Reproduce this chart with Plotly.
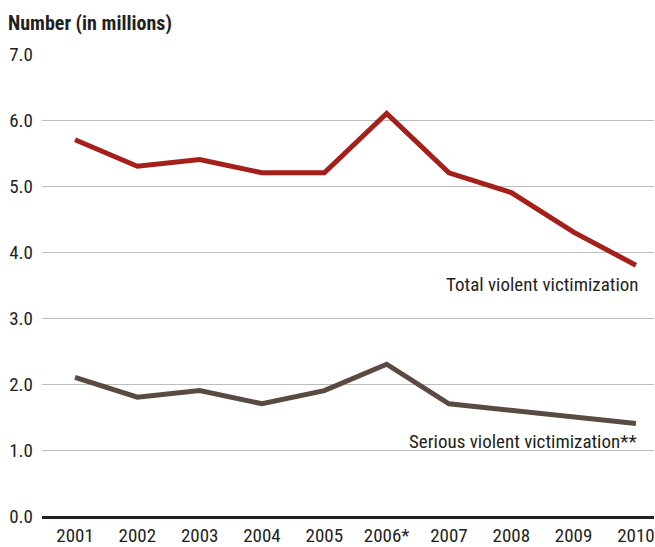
import plotly.graph_objects as go

years = ["2001", "2002", "2003", "2004", "2005", "2006*", "2007", "2008", "2009", "2010"]
total_violent = [5.7, 5.3, 5.4, 5.2, 5.2, 6.1, 5.2, 4.9, 4.3, 3.8]
serious_violent = [2.1, 1.8, 1.9, 1.7, 1.9, 2.3, 1.7, 1.6, 1.5, 1.4]
y_ticks = [0, 1, 2, 3, 4, 5, 6, 7]
y_tick_labels = ["0.0", "1.0", "2.0", "3.0", "4.0", "5.0", "6.0", "7.0"]

FONT = "Roboto Condensed, Liberation Sans Narrow, sans-serif"
TXT = "#231f20"

fig = go.Figure()
fig.add_trace(go.Scatter(x=years, y=total_violent, mode="lines",
                         line=dict(color="#a51f1b", width=5), showlegend=False,
                         hoverinfo="skip"))
fig.add_trace(go.Scatter(x=years, y=serious_violent, mode="lines",
                         line=dict(color="#5b4a42", width=5), showlegend=False,
                         hoverinfo="skip"))

last = len(years) - 1
fig.add_annotation(x=last, y=total_violent[-1], xref="x", yref="y",
                   text="Total violent victimization", showarrow=False,
                   xanchor="right", yanchor="top", xshift=5, yshift=-6,
                   font=dict(family=FONT, size=19, color=TXT))
fig.add_annotation(x=last, y=serious_violent[-1], xref="x", yref="y",
                   text="Serious violent victimization**", showarrow=False,
                   xanchor="right", yanchor="top", xshift=3, yshift=-4,
                   font=dict(family=FONT, size=19, color=TXT))
fig.add_annotation(x=0, y=1, xref="paper", yref="paper",
                   text="<b>Number (in millions)</b>", showarrow=False,
                   xanchor="left", yanchor="bottom", xshift=-36, yshift=17,
                   font=dict(family=FONT, size=20, color=TXT))

fig.update_layout(
    width=655, height=547,
    margin=dict(l=42, r=0, t=54, b=28),
    paper_bgcolor="white", plot_bgcolor="white",
    font=dict(family=FONT, size=19, color=TXT),
    xaxis=dict(type="category", range=[-0.53, 9.29], showgrid=False,
               showline=True, linecolor=TXT, linewidth=3,
               ticks="", tickfont=dict(size=19)),
    yaxis=dict(range=[0, 7], tickvals=y_ticks, ticktext=y_tick_labels,
               showgrid=True, gridcolor="#bdbdbd", gridwidth=1.2,
               zeroline=False, ticks="", tickfont=dict(size=19),
               ticklabelstandoff=8, showline=False),
)

fig.write_html("out.html", config={"displayModeBar": False},
               post_script="document.body.style.margin='0';")
